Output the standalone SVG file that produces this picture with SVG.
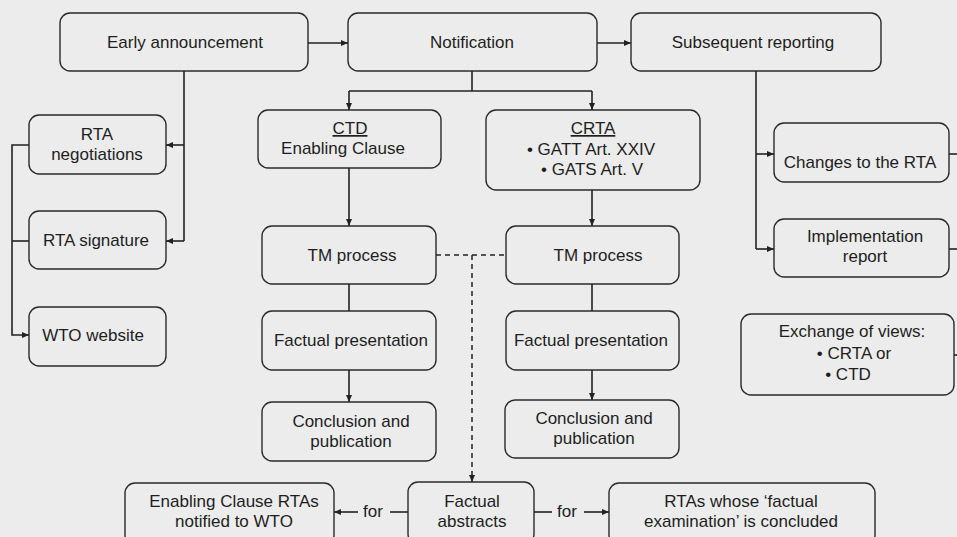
<svg xmlns="http://www.w3.org/2000/svg" width="957" height="537" viewBox="0 0 957 537">
<style>
.bx{fill:#ececec;stroke:#2a2a2a;stroke-width:1.4}
.t{font-family:"Liberation Sans",Arial,sans-serif;font-size:17px;fill:#1e1e1e;text-anchor:middle}
.c{fill:none;stroke:#222;stroke-width:1.6}
.d{fill:none;stroke:#222;stroke-width:1.5;stroke-dasharray:5 4}
</style>
<defs>
<marker id="ah" markerUnits="userSpaceOnUse" markerWidth="7" markerHeight="6" refX="7" refY="3" orient="auto">
<path d="M0,0 L7,3 L0,6 z" fill="#222"/>
</marker>
</defs>
<rect width="957" height="537" fill="#ececec"/>
<g id="connectors">
<line class="c" x1="308" y1="43" x2="348" y2="43" marker-end="url(#ah)"/>
<line class="c" x1="597" y1="43" x2="631" y2="43" marker-end="url(#ah)"/>
<line class="c" x1="472" y1="71" x2="472" y2="91"/>
<line class="c" x1="349" y1="91" x2="592" y2="91"/>
<line class="c" x1="349" y1="91" x2="349" y2="110" marker-end="url(#ah)"/>
<line class="c" x1="592" y1="91" x2="592" y2="110" marker-end="url(#ah)"/>
<line class="c" x1="184" y1="71" x2="184" y2="241"/>
<line class="c" x1="184" y1="145" x2="166" y2="145" marker-end="url(#ah)"/>
<line class="c" x1="184" y1="241" x2="166" y2="241" marker-end="url(#ah)"/>
<polyline class="c" points="29,145 12,145 12,335 29,335" marker-end="url(#ah)"/>
<line class="c" x1="12" y1="241" x2="29" y2="241"/>
<line class="c" x1="349" y1="168" x2="349" y2="226" marker-end="url(#ah)"/>
<line class="c" x1="349" y1="284" x2="349" y2="311"/>
<line class="c" x1="349" y1="370" x2="349" y2="402" marker-end="url(#ah)"/>
<line class="c" x1="592" y1="190" x2="592" y2="226" marker-end="url(#ah)"/>
<line class="c" x1="592" y1="284" x2="592" y2="311"/>
<line class="c" x1="592" y1="370" x2="592" y2="400" marker-end="url(#ah)"/>
<line class="c" x1="756" y1="71" x2="756" y2="249"/>
<line class="c" x1="756" y1="154" x2="774" y2="154" marker-end="url(#ah)"/>
<line class="c" x1="756" y1="249" x2="774" y2="249" marker-end="url(#ah)"/>
<line class="c" x1="949" y1="154" x2="957" y2="154"/>
<line class="c" x1="949" y1="249" x2="957" y2="249" stroke-width="1"/>
<line class="c" x1="954" y1="355" x2="957" y2="355"/>
<line class="d" x1="436" y1="255" x2="506" y2="255"/>
<line class="d" x1="472" y1="255" x2="472" y2="482" marker-end="url(#ah)"/>
<line class="c" x1="408" y1="512" x2="390" y2="512"/>
<text class="t" x="373" y="517">for</text>
<line class="c" x1="358" y1="512" x2="334" y2="512" marker-end="url(#ah)"/>
<line class="c" x1="534" y1="512" x2="552" y2="512"/>
<text class="t" x="567" y="517">for</text>
<line class="c" x1="584" y1="512" x2="609" y2="512" marker-end="url(#ah)"/>
</g>
<g id="early"><rect class="bx" x="60" y="13" width="248" height="58" rx="10"/><text class="t" x="185" y="48">Early announcement</text></g>
<g id="notification"><rect class="bx" x="348" y="13" width="249" height="58" rx="10"/><text class="t" x="472" y="48">Notification</text></g>
<g id="subsequent"><rect class="bx" x="631" y="13" width="250" height="58" rx="10"/><text class="t" x="753" y="48">Subsequent reporting</text></g>
<g id="rta-neg"><rect class="bx" x="29" y="115" width="137" height="59" rx="10"/><text class="t" x="97" y="140">RTA</text><text class="t" x="97" y="160">negotiations</text></g>
<g id="rta-sig"><rect class="bx" x="29" y="211" width="137" height="58" rx="10"/><text class="t" x="96" y="246">RTA signature</text></g>
<g id="wto-web"><rect class="bx" x="29" y="307" width="137" height="59" rx="10"/><text class="t" x="93" y="341">WTO website</text></g>
<g id="ctd"><rect class="bx" x="258" y="110" width="183" height="58" rx="10"/><text class="t" x="350" y="134" text-decoration="underline">CTD</text><text class="t" x="343" y="154">Enabling Clause</text></g>
<g id="crta"><rect class="bx" x="486" y="110" width="214" height="80" rx="10"/><text class="t" x="593" y="134" text-decoration="underline">CRTA</text><text class="t" x="591" y="155">• GATT Art. XXIV</text><text class="t" x="592" y="175">• GATS Art. V</text></g>
<g id="tm-left"><rect class="bx" x="262" y="226" width="174" height="58" rx="10"/><text class="t" x="352" y="261">TM process</text></g>
<g id="fp-left"><rect class="bx" x="262" y="311" width="174" height="59" rx="10"/><text class="t" x="351" y="346">Factual presentation</text></g>
<g id="concl-left"><rect class="bx" x="262" y="402" width="174" height="59" rx="10"/><text class="t" x="351" y="427">Conclusion and</text><text class="t" x="351" y="447">publication</text></g>
<g id="tm-right"><rect class="bx" x="506" y="226" width="173" height="58" rx="10"/><text class="t" x="598" y="261">TM process</text></g>
<g id="fp-right"><rect class="bx" x="506" y="311" width="173" height="59" rx="10"/><text class="t" x="591" y="346">Factual presentation</text></g>
<g id="concl-right"><rect class="bx" x="505" y="400" width="174" height="58" rx="10"/><text class="t" x="594" y="424">Conclusion and</text><text class="t" x="594" y="444">publication</text></g>
<g id="abstracts"><rect class="bx" x="408" y="482" width="126" height="62" rx="10"/><text class="t" x="472" y="507">Factual</text><text class="t" x="472" y="527">abstracts</text></g>
<g id="ec-rtas"><rect class="bx" x="125" y="483" width="209" height="62" rx="10"/><text class="t" x="234" y="507">Enabling Clause RTAs</text><text class="t" x="234" y="527">notified to WTO</text></g>
<g id="concluded"><rect class="bx" x="609" y="483" width="266" height="62" rx="10"/><text class="t" x="741" y="507">RTAs whose ‘factual</text><text class="t" x="741" y="527">examination’ is concluded</text></g>
<g id="changes"><rect class="bx" x="774" y="123" width="175" height="59" rx="10"/><text class="t" x="860" y="168">Changes to the RTA</text></g>
<g id="implementation"><rect class="bx" x="774" y="219" width="175" height="58" rx="10"/><text class="t" x="865" y="242">Implementation</text><text class="t" x="865" y="262">report</text></g>
<g id="exchange"><rect class="bx" x="741" y="314" width="213" height="81" rx="10"/><text class="t" x="852" y="337">Exchange of views:</text><text class="t" x="854" y="359">• CRTA or</text><text class="t" x="848" y="380">• CTD</text></g>
</svg>
